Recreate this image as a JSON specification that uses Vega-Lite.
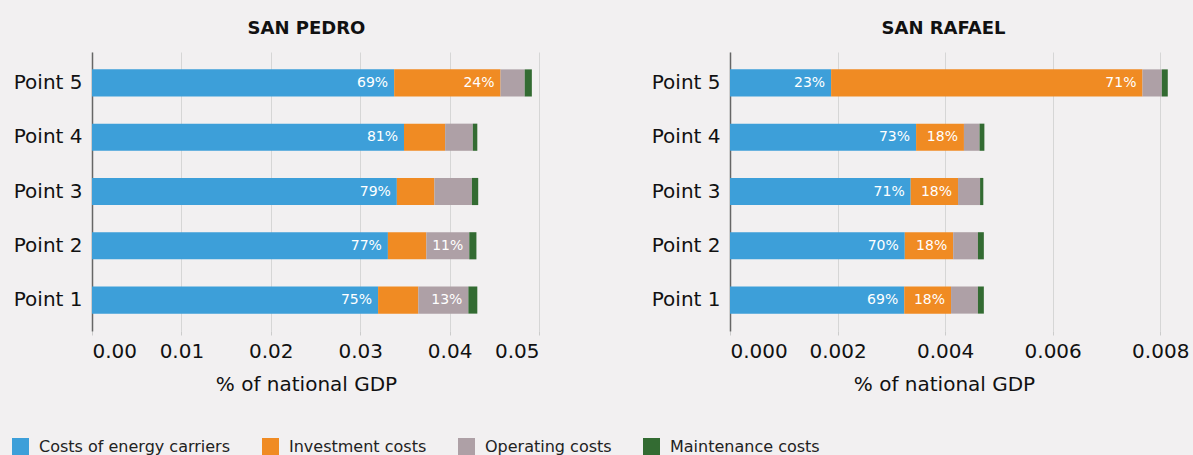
{
  "$schema": "https://vega.github.io/schema/vega-lite/v6.json",
  "background": "#f2f0f1",
  "padding": {"left": 12, "top": 20, "right": 5, "bottom": 0},
  "datasets": {
    "costs": [
      {"site": "SAN PEDRO", "point": "Point 5", "cost": "Costs of energy carriers", "k": 1, "value": 0.0338, "label": "69%"},
      {"site": "SAN PEDRO", "point": "Point 5", "cost": "Investment costs", "k": 2, "value": 0.0119, "label": "24%"},
      {"site": "SAN PEDRO", "point": "Point 5", "cost": "Operating costs", "k": 3, "value": 0.0027, "label": ""},
      {"site": "SAN PEDRO", "point": "Point 5", "cost": "Maintenance costs", "k": 4, "value": 0.0008, "label": ""},
      {"site": "SAN PEDRO", "point": "Point 4", "cost": "Costs of energy carriers", "k": 1, "value": 0.0349, "label": "81%"},
      {"site": "SAN PEDRO", "point": "Point 4", "cost": "Investment costs", "k": 2, "value": 0.0046, "label": ""},
      {"site": "SAN PEDRO", "point": "Point 4", "cost": "Operating costs", "k": 3, "value": 0.0031, "label": ""},
      {"site": "SAN PEDRO", "point": "Point 4", "cost": "Maintenance costs", "k": 4, "value": 0.0005, "label": ""},
      {"site": "SAN PEDRO", "point": "Point 3", "cost": "Costs of energy carriers", "k": 1, "value": 0.0341, "label": "79%"},
      {"site": "SAN PEDRO", "point": "Point 3", "cost": "Investment costs", "k": 2, "value": 0.0042, "label": ""},
      {"site": "SAN PEDRO", "point": "Point 3", "cost": "Operating costs", "k": 3, "value": 0.0042, "label": ""},
      {"site": "SAN PEDRO", "point": "Point 3", "cost": "Maintenance costs", "k": 4, "value": 0.0007, "label": ""},
      {"site": "SAN PEDRO", "point": "Point 2", "cost": "Costs of energy carriers", "k": 1, "value": 0.0331, "label": "77%"},
      {"site": "SAN PEDRO", "point": "Point 2", "cost": "Investment costs", "k": 2, "value": 0.0043, "label": ""},
      {"site": "SAN PEDRO", "point": "Point 2", "cost": "Operating costs", "k": 3, "value": 0.0048, "label": "11%"},
      {"site": "SAN PEDRO", "point": "Point 2", "cost": "Maintenance costs", "k": 4, "value": 0.0008, "label": ""},
      {"site": "SAN PEDRO", "point": "Point 1", "cost": "Costs of energy carriers", "k": 1, "value": 0.0320, "label": "75%"},
      {"site": "SAN PEDRO", "point": "Point 1", "cost": "Investment costs", "k": 2, "value": 0.0045, "label": ""},
      {"site": "SAN PEDRO", "point": "Point 1", "cost": "Operating costs", "k": 3, "value": 0.0056, "label": "13%"},
      {"site": "SAN PEDRO", "point": "Point 1", "cost": "Maintenance costs", "k": 4, "value": 0.0010, "label": ""},
      {"site": "SAN RAFAEL", "point": "Point 5", "cost": "Costs of energy carriers", "k": 1, "value": 0.00188, "label": "23%"},
      {"site": "SAN RAFAEL", "point": "Point 5", "cost": "Investment costs", "k": 2, "value": 0.00579, "label": "71%"},
      {"site": "SAN RAFAEL", "point": "Point 5", "cost": "Operating costs", "k": 3, "value": 0.00036, "label": ""},
      {"site": "SAN RAFAEL", "point": "Point 5", "cost": "Maintenance costs", "k": 4, "value": 0.00011, "label": ""},
      {"site": "SAN RAFAEL", "point": "Point 4", "cost": "Costs of energy carriers", "k": 1, "value": 0.00346, "label": "73%"},
      {"site": "SAN RAFAEL", "point": "Point 4", "cost": "Investment costs", "k": 2, "value": 0.00089, "label": "18%"},
      {"site": "SAN RAFAEL", "point": "Point 4", "cost": "Operating costs", "k": 3, "value": 0.00029, "label": ""},
      {"site": "SAN RAFAEL", "point": "Point 4", "cost": "Maintenance costs", "k": 4, "value": 0.00009, "label": ""},
      {"site": "SAN RAFAEL", "point": "Point 3", "cost": "Costs of energy carriers", "k": 1, "value": 0.00336, "label": "71%"},
      {"site": "SAN RAFAEL", "point": "Point 3", "cost": "Investment costs", "k": 2, "value": 0.00088, "label": "18%"},
      {"site": "SAN RAFAEL", "point": "Point 3", "cost": "Operating costs", "k": 3, "value": 0.00041, "label": ""},
      {"site": "SAN RAFAEL", "point": "Point 3", "cost": "Maintenance costs", "k": 4, "value": 0.00006, "label": ""},
      {"site": "SAN RAFAEL", "point": "Point 2", "cost": "Costs of energy carriers", "k": 1, "value": 0.00325, "label": "70%"},
      {"site": "SAN RAFAEL", "point": "Point 2", "cost": "Investment costs", "k": 2, "value": 0.00090, "label": "18%"},
      {"site": "SAN RAFAEL", "point": "Point 2", "cost": "Operating costs", "k": 3, "value": 0.00046, "label": ""},
      {"site": "SAN RAFAEL", "point": "Point 2", "cost": "Maintenance costs", "k": 4, "value": 0.00011, "label": ""},
      {"site": "SAN RAFAEL", "point": "Point 1", "cost": "Costs of energy carriers", "k": 1, "value": 0.00324, "label": "69%"},
      {"site": "SAN RAFAEL", "point": "Point 1", "cost": "Investment costs", "k": 2, "value": 0.00087, "label": "18%"},
      {"site": "SAN RAFAEL", "point": "Point 1", "cost": "Operating costs", "k": 3, "value": 0.00050, "label": ""},
      {"site": "SAN RAFAEL", "point": "Point 1", "cost": "Maintenance costs", "k": 4, "value": 0.00011, "label": ""}
    ]
  },
  "data": {"name": "costs"},
  "bounds": "flush",
  "spacing": 191,
  "resolve": {"scale": {"x": "independent", "y": "independent", "color": "shared"}},
  "hconcat": [
    {
      "title": {"text": "SAN PEDRO", "dx": -9},
      "width": 447,
      "height": 279,
      "transform": [{"filter": "datum.site === 'SAN PEDRO'"}],
      "encoding": {
        "y": {"field": "point", "type": "nominal", "sort": ["Point 5", "Point 4", "Point 3", "Point 2", "Point 1"], "title": null,
              "scale": {"paddingInner": 0.5, "paddingOuter": 0.32}},
        "x": {"field": "value", "type": "quantitative", "stack": "zero",
              "scale": {"domain": [0, 0.05], "nice": false},
              "axis": {"values": [0, 0.01, 0.02, 0.03, 0.04, 0.05], "format": ".2f", "titleX": 214},
              "title": "% of national GDP"},
        "order": {"field": "k", "type": "quantitative"}
      },
      "layer": [
        {"mark": {"type": "bar"},
         "encoding": {"color": {"field": "cost", "type": "nominal", "title": null,
            "scale": {"domain": ["Costs of energy carriers", "Investment costs", "Operating costs", "Maintenance costs"],
                      "range": ["#3d9fd9", "#f08b23", "#aea0a6", "#336b32"]}}}},
        {"mark": {"type": "text", "align": "right", "baseline": "middle", "dx": -6, "color": "white", "fontSize": 14},
         "encoding": {"text": {"field": "label"}, "detail": {"field": "cost"}}}
      ]
    },
    {
      "title": {"text": "SAN RAFAEL", "dx": -7},
      "width": 441,
      "height": 279,
      "transform": [{"filter": "datum.site === 'SAN RAFAEL'"}],
      "encoding": {
        "y": {"field": "point", "type": "nominal", "sort": ["Point 5", "Point 4", "Point 3", "Point 2", "Point 1"], "title": null,
              "scale": {"paddingInner": 0.5, "paddingOuter": 0.32}},
        "x": {"field": "value", "type": "quantitative", "stack": "zero",
              "scale": {"domain": [0, 0.0082], "nice": false},
              "axis": {"values": [0, 0.002, 0.004, 0.006, 0.008], "format": ".3f", "titleX": 214},
              "title": "% of national GDP"},
        "order": {"field": "k", "type": "quantitative"}
      },
      "layer": [
        {"mark": {"type": "bar"},
         "encoding": {"color": {"field": "cost", "type": "nominal", "title": null,
            "scale": {"domain": ["Costs of energy carriers", "Investment costs", "Operating costs", "Maintenance costs"],
                      "range": ["#3d9fd9", "#f08b23", "#aea0a6", "#336b32"]}}}},
        {"mark": {"type": "text", "align": "right", "baseline": "middle", "dx": -6, "color": "white", "fontSize": 14},
         "encoding": {"text": {"field": "label"}, "detail": {"field": "cost"}}}
      ]
    }
  ],
  "config": {
    "font": "DejaVu Sans",
    "view": {"stroke": null},
    "title": {"fontSize": 18, "fontWeight": "bold", "color": "#111", "offset": 14, "anchor": "middle"},
    "axisX": {"grid": true, "gridColor": "#d6d6d6", "domain": false, "tickColor": "#cccccc", "tickSize": 4,
              "labelFontSize": 20, "labelColor": "#111", "labelPadding": 6, "titleFontSize": 20, "titleFontWeight": "normal",
              "titleColor": "#111", "titlePadding": 13},
    "axisY": {"grid": false, "domain": true, "domainColor": "#666666", "domainWidth": 1.5, "ticks": false,
              "labelFontSize": 20, "labelColor": "#111", "labelPadding": 10},
    "legend": {"orient": "none", "legendX": -80, "legendY": 386, "direction": "horizontal", "symbolType": "square", "symbolSize": 289,
               "symbolStrokeWidth": 0, "labelFontSize": 16, "labelColor": "#222", "columnPadding": 31, "labelOffset": 10,
               "labelLimit": 400}
  }
}
